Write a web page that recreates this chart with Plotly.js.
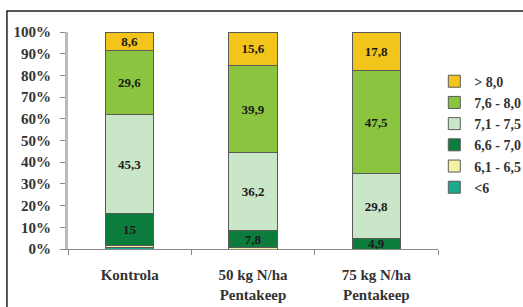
<!DOCTYPE html>
<html><head><meta charset="utf-8">
<script src="https://cdn.plot.ly/plotly-3.0.1.min.js"></script>
<style>html,body{margin:0;padding:0;background:#fff}#chart{width:523px;height:307px}</style>
</head><body><div id="chart"></div>
<script>
var categories = ['Kontrola', '50 kg N/ha<br>Pentakeep', '75 kg N/ha<br>Pentakeep'];
var seriesNames = ['<6', '6,1 - 6,5', '6,6 - 7,0', '7,1 - 7,5', '7,6 - 8,0', '> 8,0'];
var lt6 = [0.5, 0, 0];
var s61_65 = [1.0, 0.5, 0];
var s66_70 = [15, 7.8, 4.9];
var s71_75 = [45.3, 36.2, 29.8];
var s76_80 = [29.6, 39.9, 47.5];
var gt80 = [8.6, 15.6, 17.8];
var showLabel = [false, false, true, true, true, true];
var colors = ['#1BA98F', '#F5F0A2', '#0C7C3C', '#CAE6C9', '#8BC53F', '#F3C51A'];
var series = [lt6, s61_65, s66_70, s71_75, s76_80, gt80];

var traces = series.map(function(vals, i){
  return {
    type: 'bar', x: categories, y: vals, name: seriesNames[i],
    legendgroup: 'g' + i,
    marker: {color: colors[i], line: {color: '#5a5a5a', width: 1}},
    text: showLabel[i] ? vals.map(function(v){return String(v).replace('.', ',');}) : null,
    textposition: showLabel[i] ? 'inside' : 'none',
    insidetextanchor: 'middle',
    constraintext: 'none',
    textfont: {family: 'Liberation Serif', size: 13, color: '#1a1a1a', weight: 'bold'},
    textangle: 0,
    hoverinfo: 'skip'
  };
});

var layout = {
  width: 523, height: 307,
  margin: {l: 68, r: 85, t: 32, b: 58, pad: 0, autoexpand: false},
  barmode: 'stack', bargap: 0.61,
  paper_bgcolor: '#fff', plot_bgcolor: '#fff',
  font: {family: 'Liberation Serif', size: 15, color: '#333', weight: 'bold'},
  showlegend: true,
  legend: {x: 0.99, y: 0.845, xanchor: 'left', yanchor: 'top', traceorder: 'reversed',
    font: {family: 'Liberation Serif', size: 14, color: '#333', weight: 'bold'},
    tracegroupgap: 5.5, itemwidth: 30, bgcolor: 'rgba(0,0,0,0)'},
  xaxis: {showline: true, linecolor: '#888', linewidth: 1, ticks: 'outside', tickson: 'boundaries',
    ticklen: 5, tickcolor: '#888', showgrid: false, zeroline: false, ticklabelstandoff: 12,
    tickfont: {family: 'Liberation Serif', size: 15, color: '#333', weight: 'bold'}},
  yaxis: {range: [0, 100], dtick: 10, ticksuffix: '%', showline: true, linecolor: '#bbb', linewidth: 3,
    ticks: 'outside', ticklen: 5, tickcolor: '#888', showgrid: false, zeroline: false, fixedrange: true,
    ticklabelstandoff: 6,
    tickfont: {family: 'Liberation Serif', size: 15, color: '#333', weight: 'bold'}},
  shapes: [{type: 'rect', xref: 'paper', yref: 'paper', x0: -0.165, x1: 1.4, y0: -0.5, y1: 1.097,
    line: {color: '#222', width: 1.5}, fillcolor: 'rgba(0,0,0,0)', layer: 'below'}]
};
Plotly.newPlot('chart', traces, layout, {staticPlot: true});
</script></body></html>
